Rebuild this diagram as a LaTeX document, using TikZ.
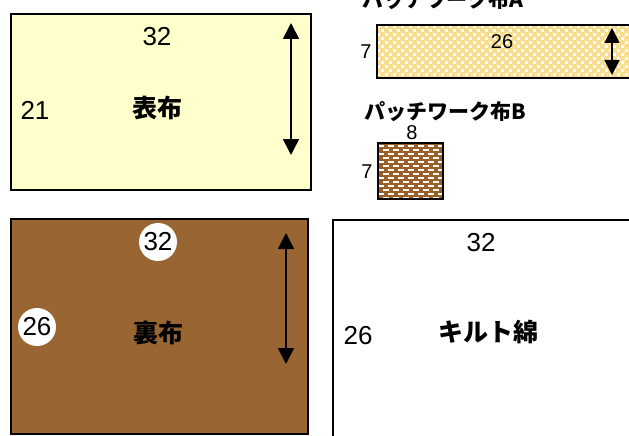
\documentclass[tikz,border=0pt]{standalone}
\usepackage{fontspec}
\setmainfont{Liberation Sans}
\newfontfamily\cjk{Noto Sans CJK JP}
\usetikzlibrary{arrows.meta}
\definecolor{omote}{HTML}{FFFFCC}
\definecolor{ura}{HTML}{996633}
\definecolor{pya}{HTML}{F8DD90}
\definecolor{pyb}{HTML}{9A6028}
\begin{document}
\begin{tikzpicture}[x=1pt,y=-1pt,
  num/.style={font=\fontsize{26}{26}\selectfont, inner sep=0pt},
  smallnum/.style={font=\fontsize{20}{20}\selectfont, inner sep=0pt},
  lbl/.style={font=\cjk\bfseries\fontsize{25}{25}\selectfont, inner sep=0pt},
  ttl/.style={font=\cjk\bfseries\fontsize{21}{21}\selectfont, inner sep=0pt},
  circ/.style={circle, fill=white, minimum size=38pt, inner sep=0pt, font=\fontsize{26}{26}\selectfont},
  boxline/.style={draw=black, line width=2pt},
  dimarrow/.style={line width=1.8pt, {Triangle[width=16pt,length=16pt]}-{Triangle[width=16pt,length=16pt]}},
  smallarrow/.style={line width=1.8pt, {Triangle[width=15pt,length=15pt]}-{Triangle[width=15pt,length=15pt]}}
]
\useasboundingbox (0,0) rectangle (629,436);
\clip (0,0) rectangle (629,436);
\fill[white] (0,0) rectangle (629,436);

% 表布
\filldraw[boxline, fill=omote] (11,14) rectangle (311,190);
\node[num] (w1) at (157,37) {32};
\node[num] (h1) at (35,110) {21};
\node[lbl] (n1) at (157,108) {表布};
\coordinate (a1t) at (291,23);
\coordinate (a1b) at (291,155);
\draw[dimarrow] (a1t) -- (a1b);

% 裏布
\filldraw[boxline, fill=ura] (11,219) rectangle (308,434);
\node[circ] (w2) at (158,242) {32};
\node[circ] (h2) at (37,327) {26};
\node[lbl] (n2) at (158,333) {裏布};
\coordinate (a2t) at (286,233);
\coordinate (a2b) at (286,364);
\draw[dimarrow] (a2t) -- (a2b);

% キルト綿
\draw[boxline] (333,220) rectangle (650,460);
\node[num] (w3) at (481,243) {32};
\node[num] (h3) at (358,336) {26};
\node[lbl] (n3) at (488,332) {キルト綿};

% パッチワーク布A
\node[ttl, anchor=base west] (tA) at (362,8) {パッチワーク布A};
\begin{scope}
  \clip (377,25) rectangle (650,78);
  \fill[pya] (377,25) rectangle (650,78);
  \foreach \i in {0,...,34}{
    \foreach \j in {0,...,6}{
      \fill[white] ({377+8*\i},{25+8*\j}) rectangle +(3.2,3.2);
      \fill[white] ({381+8*\i},{29+8*\j}) rectangle +(3.2,3.2);
    }
  }
\end{scope}
\draw[line width=2.2pt] (377,25) rectangle (650,78);
\node[smallnum] (hA) at (366,52) {7};
\node[smallnum] (wA) at (502,42) {26};
\coordinate (aAt) at (612,28);
\coordinate (aAb) at (612,75);
\draw[smallarrow] (aAt) -- (aAb);

% パッチワーク布B
\node[ttl, anchor=base west] (tB) at (364,119) {パッチワーク布B};
\begin{scope}
  \clip (378,143) rectangle (443,199);
  \fill[pyb] (378,143) rectangle (443,199);
  \foreach \j in {0,...,14}{
    \foreach \i in {-1,...,7}{
      \fill[white] ({378+10*\i+5*mod(\j,2)},{145+4*\j}) rectangle +(6,1.6);
    }
  }
\end{scope}
\draw[line width=2.2pt] (378,143) rectangle (443,199);
\node[smallnum] (wB) at (412,133) {8};
\node[smallnum] (hB) at (367,172) {7};
\end{tikzpicture}
\end{document}
